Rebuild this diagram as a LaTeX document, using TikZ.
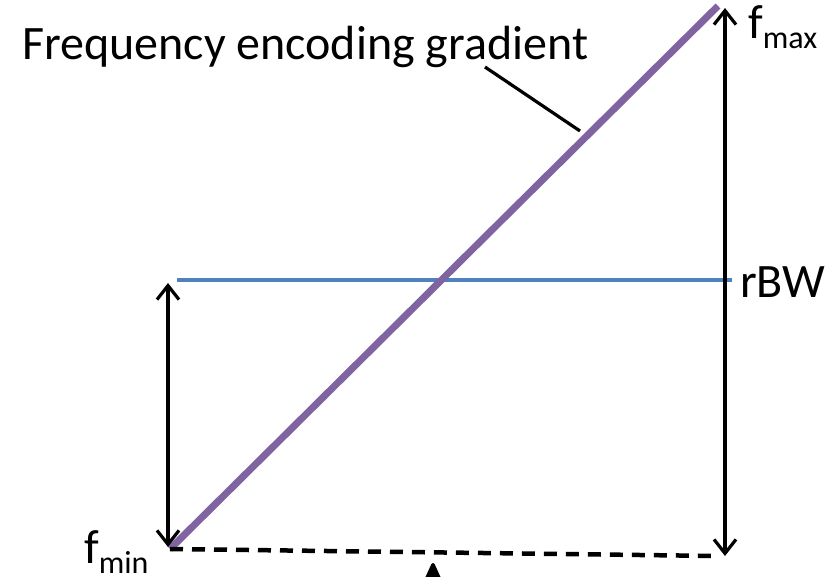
\documentclass[tikz,border=0pt]{standalone}
\usepackage{fontspec}
\setmainfont{Carlito}
\usetikzlibrary{arrows.meta, calc}
\definecolor{gradpurple}{HTML}{8064A2}
\definecolor{bwblue}{HTML}{4F81BD}
\newcommand{\lowsub}[1]{\raisebox{-10pt}{\fontsize{32}{32}\selectfont #1}}

\begin{document}
\begin{tikzpicture}[
    x=1pt, y=-1pt,
    lbl/.style={font=\fontsize{48}{58}\selectfont, inner sep=0pt},
    span/.style={line width=3.2pt, {Straight Barb[length=14pt,width=22pt]}-{Straight Barb[length=14pt,width=22pt]}},
    grad/.style={line width=7pt, gradpurple},
    bw/.style={line width=4pt, bwblue}
]
    \useasboundingbox (0,0) rectangle (839,577);
    \clip (0,0) rectangle (839,577);
    % end points of the gradient and the bandwidth line
    \coordinate (lo) at (170,549);
    \coordinate (hi) at (718,6);
    \coordinate (bwl) at (177,280);
    \coordinate (bwr) at (732,280);
    \coordinate (rtop) at (725,8);
    \coordinate (rbot) at (725,556);
    \coordinate (ltop) at (168,283);
    \coordinate (lbot) at (168,547);
    \coordinate (dend) at (718,556);
    \coordinate (ptr) at (580,131);
    \coordinate (tipbase) at (433,620);
    \coordinate (tip) at (433,563);

    \draw[bw] (bwl) -- (bwr);
    \draw[grad] (lo) -- (hi);
    \draw[span] (rbot) -- (rtop);
    \draw[span] (lbot) -- (ltop);
    \draw[line width=4.5pt, dash pattern=on 13pt off 9pt] (lo) -- (dend);
    \draw[line width=3.5pt, -{Triangle[length=20pt,width=17pt,round]}] (tipbase) -- (tip);

    \node[lbl, anchor=base west] (title) at (22,60) {Frequency encoding gradient};
    \coordinate (ptrstart) at (485,67);
    \draw[line width=3.2pt] (ptrstart) -- (ptr);
    \node[lbl, anchor=base west] (fmax) at (748,39) {f\lowsub{max}};
    \node[lbl, anchor=base west] (rbw) at (740,298) {rBW};
    \node[lbl, anchor=base west] (fmin) at (84,563) {f\lowsub{min}};
\end{tikzpicture}
\end{document}
